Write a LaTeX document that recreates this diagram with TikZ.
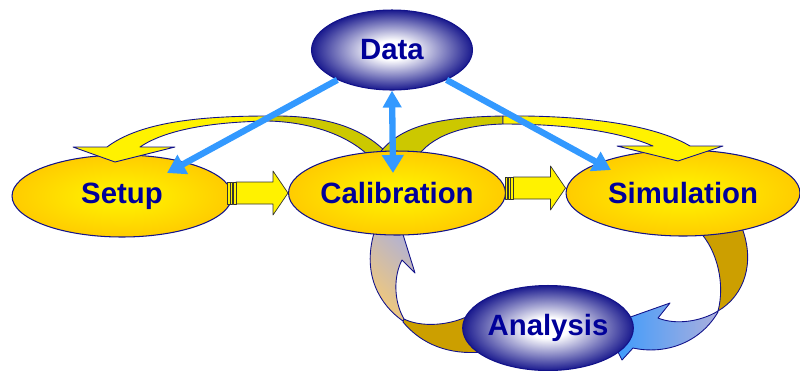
\documentclass[tikz,border=0pt]{standalone}
\usepackage{xcolor}
\usepackage{fontspec}
\setsansfont{Liberation Sans}
\usetikzlibrary{positioning,arrows.meta,shapes.geometric}

\definecolor{ink}{HTML}{000099}
\definecolor{rim}{HTML}{12128A}
\definecolor{lemon}{HTML}{FFF700}
\definecolor{gold}{HTML}{FFCC00}
\definecolor{deepblue}{HTML}{1A1A8E}
\definecolor{sky}{HTML}{3399FF}
\definecolor{olive}{HTML}{CCC800}
\definecolor{ochre}{HTML}{CC9F00}
\definecolor{peach}{HTML}{F7CB72}
\definecolor{lilac}{HTML}{ABAFDD}

\pgfdeclareradialshading{halo}{\pgfpoint{0bp}{0bp}}{color(0bp)=(white); color(6bp)=(white); color(25bp)=(deepblue); color(50bp)=(deepblue)}

\newcommand{\pusharrow}[1]{%
  \draw[push] (#1) -- ++(-15,-22) -- ++(0,11) -- ++(-37,0) -- ++(0,22) -- ++(37,0) -- ++(0,11) -- cycle;
  \draw[push] (#1) ++(-52,-11) rectangle ++(-3,22) ++(-0.5,0) rectangle ++(-2,-22) ++(-0.5,0) rectangle ++(-2.5,22);
}

\begin{document}
\begin{tikzpicture}[x=0.02cm,y=-0.02cm,line join=round]
  \tikzstyle{stage}=[ellipse,draw=rim,line width=0.6pt,inner sep=0pt,
    inner color=lemon,outer color=gold,text=ink,
    font=\sffamily\bfseries\fontsize{16.7}{20}\selectfont]
  \tikzstyle{source}=[stage,shading=halo]
  \tikzstyle{band}=[draw=rim,line width=0.5pt]
  \tikzstyle{push}=[draw=black!80,line width=0.4pt,fill=yellow]
  \tikzstyle{link}=[draw=sky,line width=3.6pt]
  \useasboundingbox (0,0) rectangle (800,370);

  % back halves of the top loops, tucked under the calibration
  \path[band,fill=olive] (268,116) .. controls (320,115) and (365,125) .. (393,160) -- (373,160) .. controls (350,135) and (310,122) .. (268,121) -- cycle;
  \path[band,fill=olive] (375,160) .. controls (395,125) and (440,117) .. (503,116) -- (503,124) .. controls (465,125) and (430,135) .. (415,160) -- cycle;

  % feedback through the analysis
  \path[band,fill=ochre] (404,319) .. controls (420,327) and (450,327) .. (474,313) -- (490,320) -- (490,345) -- (482,352) .. controls (450,355) and (422,345) .. (403,322) -- cycle;
  \path[band,left color=peach,right color=lilac,shading angle=135] (403,321) .. controls (380,305) and (362,275) .. (374,233) -- (372,224) -- (396,212) -- (415,273) -- (402,260) .. controls (394,275) and (393,300) .. (404,319) -- cycle;
  \path[band,fill=ochre] (698,230) .. controls (718,250) and (725,285) .. (718,311) .. controls (745,295) and (755,262) .. (742,228) -- cycle;
  \path[band,left color=sky,right color=lilac] (718,311) .. controls (700,322) and (675,325) .. (658,318) -- (670,303) -- (605,326) -- (622,360) -- (633,348) .. controls (665,355) and (700,343) .. (718,312) -- cycle;

  \node[stage,minimum width=4.4cm,minimum height=1.64cm]  (setup) at (122,196)          {Setup};
  \node[stage,minimum width=4.34cm,minimum height=1.68cm] (calib) at (397,193)          {Calibration};
  \node[stage,minimum width=4.68cm,minimum height=1.72cm] (sim)   [right=1.19cm of calib] {Simulation};
  \node[source,minimum width=3.22cm,minimum height=1.6cm] (data)  at (392,50)           {Data};
  \node[source,minimum width=3.18cm,minimum height=1.7cm] (ana)   at (548,328)          {Analysis};

  % front halves of the top loops, heads over the outer stages
  \path[band,fill=yellow] (107,147) .. controls (140,122) and (200,116) .. (268,116) -- (268,121) .. controls (210,122) and (165,130) .. (140,147) -- (175,147) -- (115,162) -- (73,147) -- cycle;
  \path[band,fill=yellow] (503,116) .. controls (585,115) and (655,125) .. (690,146) -- (723,146) -- (678,161) -- (617,146) -- (653,146) .. controls (620,132) and (570,124) .. (503,124) -- cycle;

  \pusharrow{calib.west}
  \pusharrow{[yshift=0.1cm]sim.west}

  \draw[link,-{Triangle[length=0.36cm,width=0.42cm]}] (data) -- ([shift={(45,-23)}]setup.center);
  \draw[link,-{Triangle[length=0.36cm,width=0.42cm]}] (data) -- ([shift={(-72,-23)}]sim.center);
  \draw[link,{Triangle[length=0.34cm,width=0.36cm]}-{Triangle[length=0.36cm,width=0.42cm]}] (data.south) -- ([shift={(-4,-20)}]calib.center);
\end{tikzpicture}
\end{document}
